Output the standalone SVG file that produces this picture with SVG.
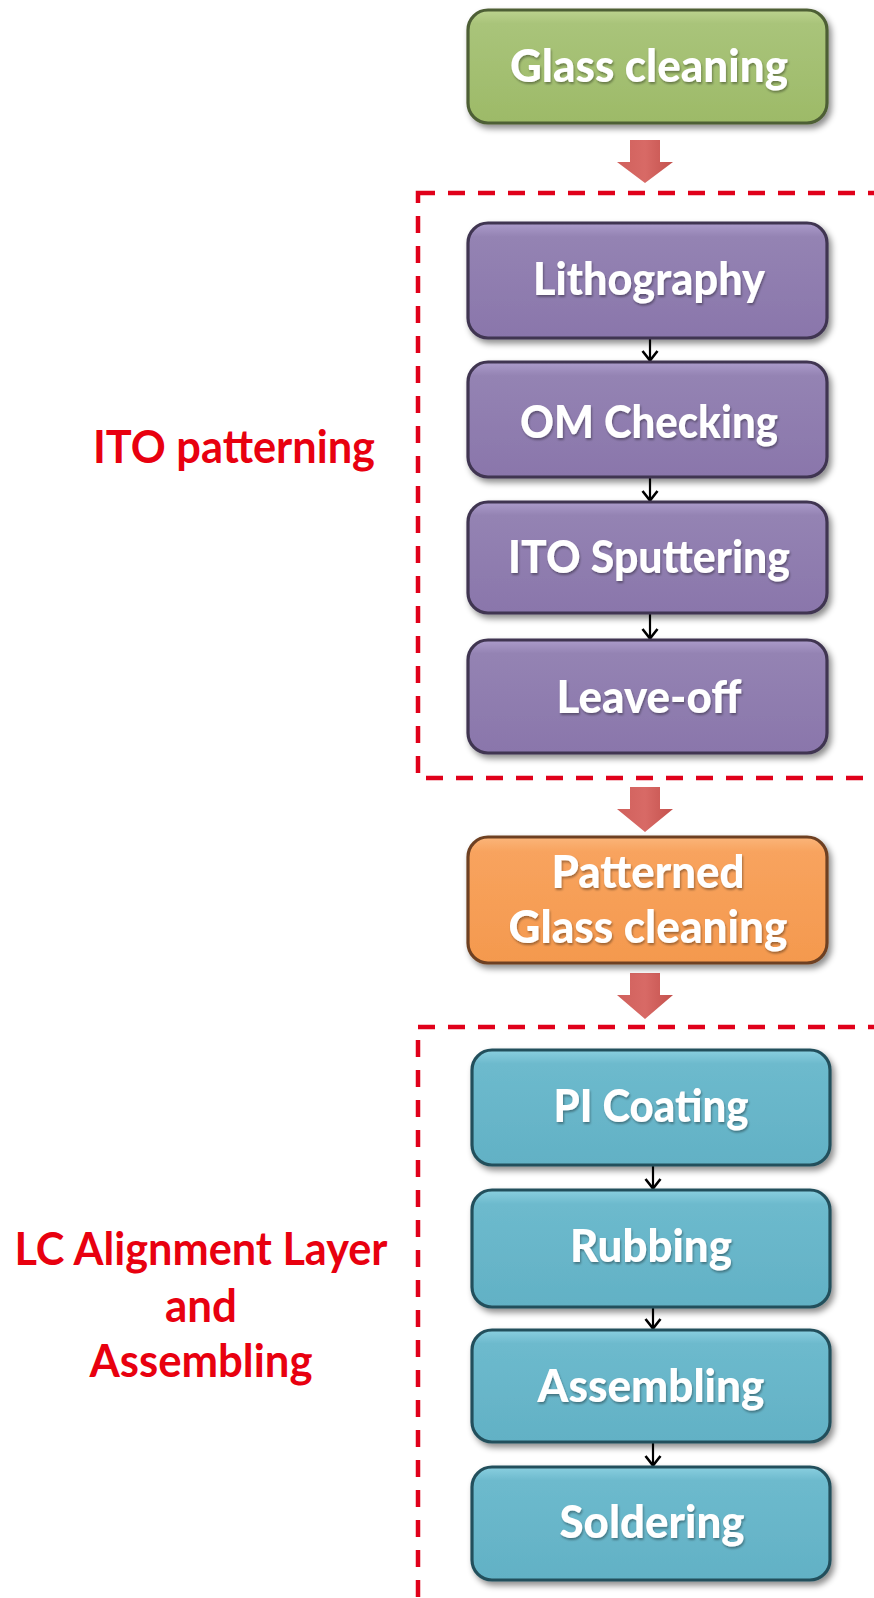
<svg xmlns="http://www.w3.org/2000/svg" width="874" height="1598" viewBox="0 0 874 1598">
<defs>
  <linearGradient id="gGreen" x1="0" y1="0" x2="0" y2="1">
    <stop offset="0" stop-color="#BCD38F"/><stop offset="0.12" stop-color="#A9C47A"/><stop offset="1" stop-color="#9DBA68"/>
  </linearGradient>
  <linearGradient id="gPurple" x1="0" y1="0" x2="0" y2="1">
    <stop offset="0" stop-color="#AC9CCB"/><stop offset="0.12" stop-color="#9483B3"/><stop offset="1" stop-color="#8A76AB"/>
  </linearGradient>
  <linearGradient id="gOrange" x1="0" y1="0" x2="0" y2="1">
    <stop offset="0" stop-color="#FBB57A"/><stop offset="0.12" stop-color="#F8A35E"/><stop offset="1" stop-color="#F4994E"/>
  </linearGradient>
  <linearGradient id="gBlue" x1="0" y1="0" x2="0" y2="1">
    <stop offset="0" stop-color="#8ACFE0"/><stop offset="0.12" stop-color="#6DBACD"/><stop offset="1" stop-color="#62B1C5"/>
  </linearGradient>
  <linearGradient id="gRed" x1="0" y1="0" x2="1" y2="0">
    <stop offset="0" stop-color="#D0605C"/><stop offset="0.5" stop-color="#D86A66"/><stop offset="1" stop-color="#C4514D"/>
  </linearGradient>
  <filter id="shadow" x="-10%" y="-20%" width="125%" height="150%">
    <feDropShadow dx="3" dy="4" stdDeviation="3" flood-color="#000" flood-opacity="0.45"/>
  </filter>
  <filter id="tshadow" x="-10%" y="-30%" width="120%" height="160%">
    <feDropShadow dx="1" dy="2" stdDeviation="1.2" flood-color="#000" flood-opacity="0.35"/>
  </filter>
  <marker id="vhead" viewBox="0 0 12 18" refX="11" refY="9" markerWidth="12" markerHeight="18" markerUnits="userSpaceOnUse" orient="auto">
    <path d="M1,1.5 L10.5,9 L1,16.5" fill="none" stroke="#000" stroke-width="2.6"/>
  </marker>
</defs>
<style>
  .box { stroke-width: 3.2; filter: url(#shadow); }
  .green { fill: url(#gGreen); stroke: #4E5E34; }
  .purple { fill: url(#gPurple); stroke: #3F3551; }
  .orange { fill: url(#gOrange); stroke: #6E4020; }
  .blue { fill: url(#gBlue); stroke: #24505C; }
  .lbl { font-family: Lato, "Open Sans", "Liberation Sans", sans-serif; font-weight: 900; font-size: 45px; fill: #FFFFFF; text-anchor: middle; filter: url(#tshadow); }
  .side { font-family: Lato, "Open Sans", "Liberation Sans", sans-serif; font-weight: bold; font-size: 45px; fill: #E8000F; text-anchor: middle; }
  .dash { fill: none; stroke: #E0001A; stroke-width: 4.5; stroke-dasharray: 17 13; }
  .thin { stroke: #000; stroke-width: 2.2; fill: none; marker-end: url(#vhead); }
  .big { fill: url(#gRed); }
</style>
<rect width="874" height="1598" fill="#FFFFFF"/>

<g id="groups">
  <rect class="dash" x="418" y="193" width="470" height="585"/>
  <rect class="dash" x="418" y="1027" width="470" height="580"/>
</g>

<g id="label-ito">
  <text class="side" x="234" y="463" textLength="282" lengthAdjust="spacingAndGlyphs">ITO patterning</text>
</g>
<g id="label-lc">
  <text class="side" x="201" y="1265" textLength="373" lengthAdjust="spacingAndGlyphs">LC Alignment Layer</text>
  <text class="side" x="201" y="1322" textLength="72" lengthAdjust="spacingAndGlyphs">and</text>
  <text class="side" x="201" y="1377" textLength="223" lengthAdjust="spacingAndGlyphs">Assembling</text>
</g>

<g id="connectors">
  <path class="big" d="M630,140 H660 V162 H673 L645,183 L617,162 H630 Z"/>
  <path class="big" d="M630,787 H660 V809 H673 L645,832 L617,809 H630 Z"/>
  <path class="big" d="M630,973 H660 V995 H673 L645,1019 L617,995 H630 Z"/>
  <line class="thin" x1="650" y1="338" x2="650" y2="361"/>
  <line class="thin" x1="650" y1="477" x2="650" y2="501"/>
  <line class="thin" x1="650" y1="613" x2="650" y2="639"/>
  <line class="thin" x1="653" y1="1165" x2="653" y2="1189"/>
  <line class="thin" x1="653" y1="1307" x2="653" y2="1329"/>
  <line class="thin" x1="653" y1="1442" x2="653" y2="1466"/>
</g>

<g id="glass-cleaning">
  <rect class="box green" x="468" y="10" width="359" height="113" rx="20"/>
  <text class="lbl" x="649" y="82" textLength="278" lengthAdjust="spacingAndGlyphs">Glass cleaning</text>
</g>
<g id="lithography">
  <rect class="box purple" x="468" y="223" width="359" height="115" rx="20"/>
  <text class="lbl" x="649" y="295" textLength="232" lengthAdjust="spacingAndGlyphs">Lithography</text>
</g>
<g id="om-checking">
  <rect class="box purple" x="468" y="362" width="359" height="115" rx="20"/>
  <text class="lbl" x="649" y="438" textLength="258" lengthAdjust="spacingAndGlyphs">OM Checking</text>
</g>
<g id="ito-sputtering">
  <rect class="box purple" x="468" y="502" width="359" height="111" rx="20"/>
  <text class="lbl" x="649" y="573" textLength="282" lengthAdjust="spacingAndGlyphs">ITO Sputtering</text>
</g>
<g id="leave-off">
  <rect class="box purple" x="468" y="640" width="359" height="113" rx="20"/>
  <text class="lbl" x="649" y="713" textLength="185" lengthAdjust="spacingAndGlyphs">Leave-off</text>
</g>
<g id="patterned-glass-cleaning">
  <rect class="box orange" x="468" y="837" width="359" height="126" rx="20"/>
  <text class="lbl" x="648" y="888" textLength="193" lengthAdjust="spacingAndGlyphs">Patterned</text>
  <text class="lbl" x="648" y="943" textLength="279" lengthAdjust="spacingAndGlyphs">Glass cleaning</text>
</g>
<g id="pi-coating">
  <rect class="box blue" x="472" y="1050" width="358" height="115" rx="20"/>
  <text class="lbl" x="651" y="1122" textLength="195" lengthAdjust="spacingAndGlyphs">PI Coating</text>
</g>
<g id="rubbing">
  <rect class="box blue" x="472" y="1190" width="358" height="117" rx="20"/>
  <text class="lbl" x="651" y="1262" textLength="162" lengthAdjust="spacingAndGlyphs">Rubbing</text>
</g>
<g id="assembling">
  <rect class="box blue" x="472" y="1330" width="358" height="112" rx="20"/>
  <text class="lbl" x="651" y="1402" textLength="227" lengthAdjust="spacingAndGlyphs">Assembling</text>
</g>
<g id="soldering">
  <rect class="box blue" x="472" y="1467" width="358" height="113" rx="20"/>
  <text class="lbl" x="652" y="1538" textLength="185" lengthAdjust="spacingAndGlyphs">Soldering</text>
</g>
</svg>
